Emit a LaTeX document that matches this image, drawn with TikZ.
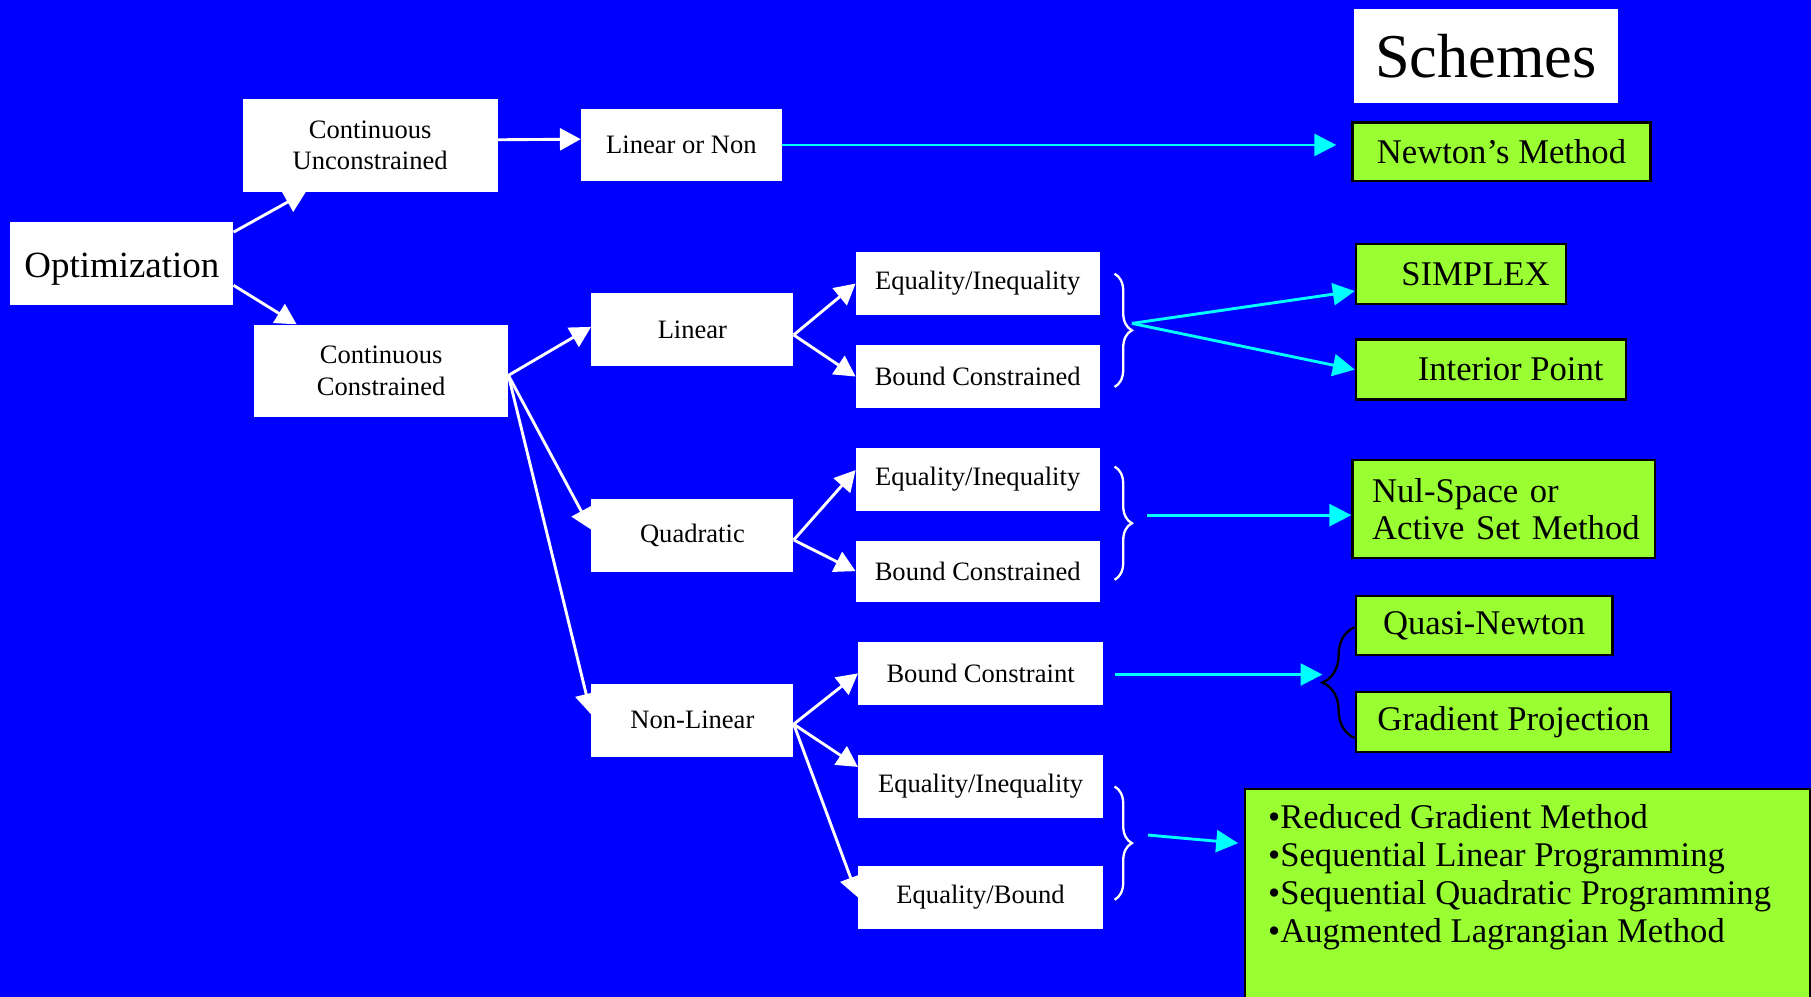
\documentclass[tikz,border=0pt]{standalone}
\usepackage{fontspec}
\setmainfont{Liberation Serif}
\usetikzlibrary{arrows.meta,decorations.pathreplacing,calc}
\definecolor{bgblue}{RGB}{0,0,255}
\definecolor{lime}{RGB}{153,255,51}
\definecolor{aqua}{RGB}{0,255,255}

\begin{document}
\begin{tikzpicture}[x=1pt,y=-1pt,
  wbox/.style={fill=white, inner sep=0pt, align=center, font=\fontsize{23}{27}\selectfont},
  gbox/.style={fill=lime, draw=black, line width=2pt, inner sep=0pt, align=center, font=\fontsize{30}{32}\selectfont},
  tree/.style={draw=white, line width=2.5pt, -{Triangle[length=18pt,width=19pt]}},
  link/.style={draw=aqua, line width=2.5pt, -{Triangle[length=19pt,width=19pt]}},
  wbrace/.style={draw=white, line width=2pt, decorate, decoration={brace, amplitude=15pt}},
  kbrace/.style={draw=black, line width=2pt, decorate, decoration={brace, amplitude=28pt}}
]
\useasboundingbox (0,0) rectangle (1568,863);
\fill[bgblue] (0,0) rectangle (1568,863);

% problem classes (white boxes)
\node[wbox, minimum width=229pt, minimum height=81pt, font=\fontsize{54}{58}\selectfont] (schemes) at (1286.5,48.5) {Schemes};
\node[wbox, minimum width=193pt, minimum height=72pt, text height=31pt, text depth=7pt, font=\fontsize{32}{36}\selectfont] (opt) at (105.5,228) {Optimization};
\node[wbox, minimum width=221pt, minimum height=80pt] (cu) at (320.5,126) {Continuous\\Unconstrained};
\node[wbox, minimum width=220pt, minimum height=80pt] (cc) at (330,321) {Continuous\\Constrained};
\node[wbox, minimum width=174pt, minimum height=63pt] (lon) at (590,125.5) {Linear or Non};
\node[wbox, minimum width=175pt, minimum height=63pt] (lin) at (599.5,285.5) {Linear};
\node[wbox, minimum width=175pt, minimum height=63pt] (quad) at (599.5,463.5) {Quadratic};
\node[wbox, minimum width=175pt, minimum height=63pt] (nl) at (599.5,623.5) {Non-Linear};
\node[wbox, minimum width=211pt, minimum height=55pt] (e1) at (846.5,245.5) {Equality/Inequality};
\node[wbox, minimum width=211pt, minimum height=54pt] (b1) at (846.5,326) {Bound Constrained};
\node[wbox, minimum width=211pt, minimum height=54pt] (e2) at (846.5,415) {Equality/Inequality};
\node[wbox, minimum width=211pt, minimum height=53pt] (b2) at (846.5,494.5) {Bound Constrained};
\node[wbox, minimum width=212pt, minimum height=54pt] (bc) at (849,583) {Bound Constraint};
\node[wbox, minimum width=212pt, minimum height=54pt] (e3) at (849,681) {Equality/Inequality};
\node[wbox, minimum width=212pt, minimum height=54pt] (eb) at (849,777) {Equality/Bound};

% solution schemes (green boxes)
\node[gbox, minimum width=258pt, minimum height=51pt] (newton) at (1300,131.5) {Newton’s Method};
\node[gbox, minimum width=182pt, minimum height=52pt] (simplex) at (1265,237) {\hspace*{25pt}SIMPLEX};
\node[gbox, minimum width=234pt, minimum height=52pt] (interior) at (1291,320) {\hspace*{34pt}Interior Point};
\node[gbox, text width=262pt, inner xsep=0pt, minimum height=85pt, align=left] (nul) at (1302,440.5)
  {\hspace*{17pt}Nul-Space or\\\hspace*{17pt}Active Set Method};
\node[gbox, minimum width=222pt, minimum height=51pt] (quasi) at (1285,541.5) {Quasi-Newton};
\node[gbox, minimum width=273pt, minimum height=52pt] (grad) at (1310.5,625) {Gradient Projection};
\node[gbox, anchor=north west, minimum width=489pt, minimum height=184pt, inner xsep=20pt, inner ysep=0pt] (list) at (1077,682)
  {\parbox[c][184pt][t]{449pt}{\fontsize{30}{33}\selectfont
   \rule{0pt}{34pt}•Reduced Gradient Method\\
   •Sequential Linear Programming\\
   •Sequential Quadratic Programming\\
   •Augmented Lagrangian Method}};

% classification tree
\draw[tree] ([yshift=27pt]opt.east) -- ([xshift=55pt]cu.south west);
\draw[tree] ([yshift=-19pt]opt.east) -- ([xshift=37pt]cc.north west);
\draw[tree] ([yshift=5pt]cu.east) -- ([yshift=5pt]lon.west);
\draw[tree] ([yshift=-4pt]cc.east) -- ([yshift=2.5pt]lin.west);
\draw[tree] ([yshift=-4pt]cc.east) -- ([yshift=5pt]quad.west);
\draw[tree] ([yshift=-4pt]cc.east) -- ([yshift=5pt]nl.west);
\draw[tree] ([yshift=-4.5pt]lin.east) -- (e1.west);
\draw[tree] ([yshift=-4.5pt]lin.east) -- (b1.west);
\draw[tree] ([yshift=-4pt]quad.east) -- ([yshift=8pt]e2.west);
\draw[tree] ([yshift=-4pt]quad.east) -- (b2.west);
\draw[tree] ([yshift=-3.5pt]nl.east) -- (bc.west);
\draw[tree] ([yshift=-3.5pt]nl.east) -- ([yshift=17pt]e3.west);
\draw[tree] ([yshift=-3.5pt]nl.east) -- (eb.west);

% grouping braces
\draw[wbrace] (965,237) -- (965,335);
\draw[wbrace] (965,404) -- (965,502);
\draw[wbrace] (965,681) -- (965,779);
\draw[kbrace] (1173,639) -- (1173,543);
\coordinate (t1) at (980,280);
\coordinate (t2) at (993,446);
\coordinate (t3) at (994,723);
\coordinate (t4) at (1145,584);

% scheme links
\draw[link, shorten >=13pt] (lon.east) -- (lon.east -| newton.west);
\draw[link] (t1) -- ([yshift=-15pt]simplex.west);
\draw[link] (t1) -- (interior.west);
\draw[link] (t2) -- ([yshift=-5.5pt]nul.west);
\draw[link] ([xshift=10pt,yshift=-1pt]bc.east) -- (t4);
\draw[link] (t3) -- ($(list.north west)+(-5,48)$);
\end{tikzpicture}
\end{document}
